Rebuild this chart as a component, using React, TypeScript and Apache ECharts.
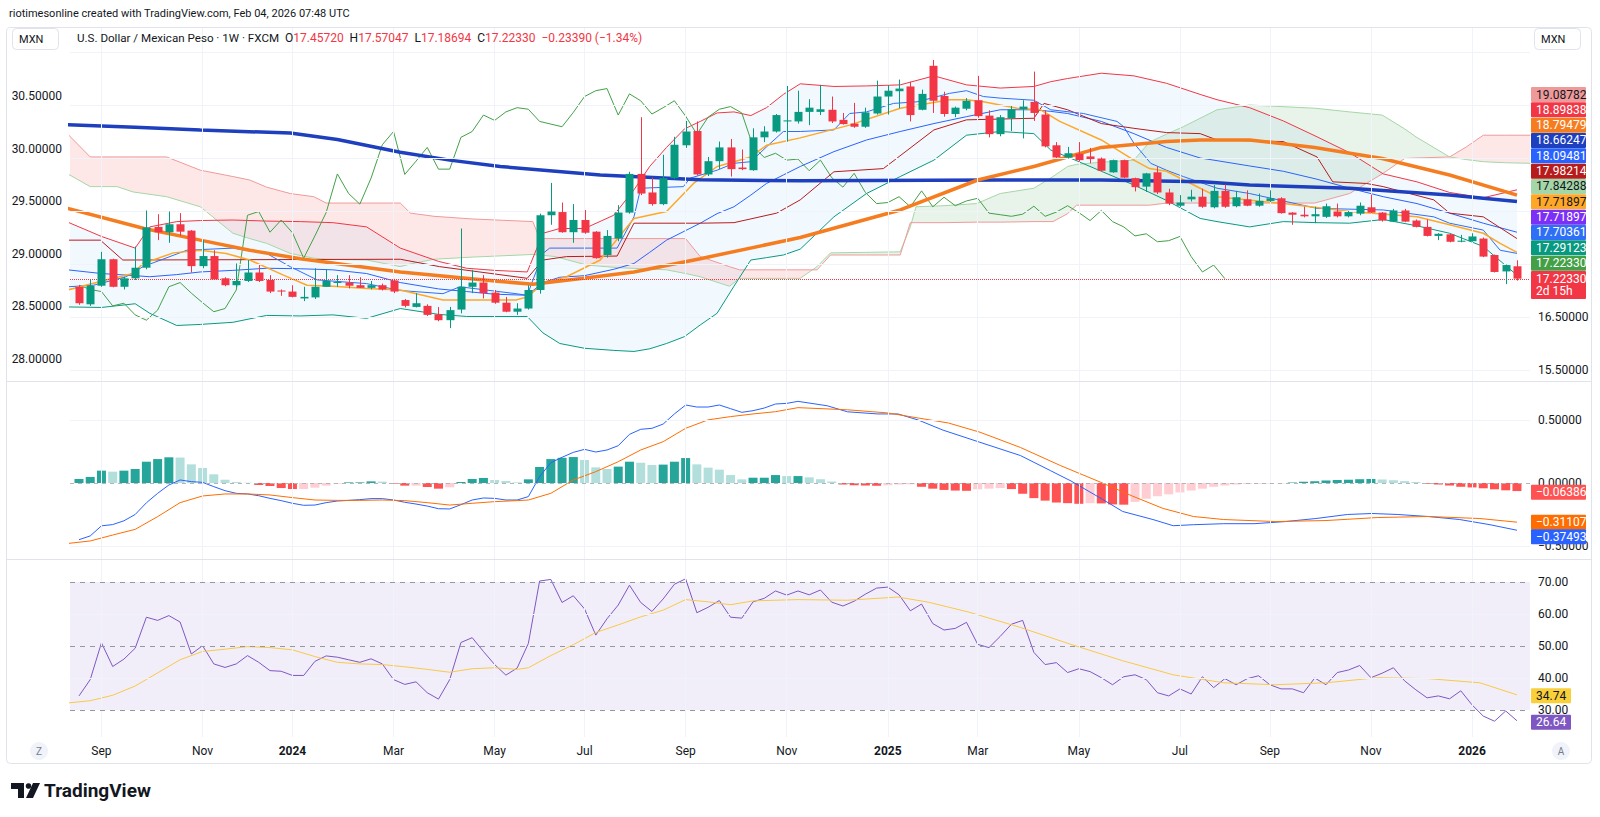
import React, { useEffect, useRef } from "react";
import * as echarts from "echarts";

const UP = "#089981";
const DOWN = "#f23645";
const TXT = "#131722";
const FONT = "Roboto, 'Liberation Sans', sans-serif";
const XMIN = -0.8;
const XMAX = 129.16;

// weekly candles (Aug 21 2023 .. Feb 2 2026): [open, high, low, close]
const CANDLES: number[][] = [
  [17.07, 17.1, 16.73, 16.76], [16.74, 17.2, 16.71, 17.09], [17.09, 17.73, 17.07, 17.59], [17.59, 17.6, 17.06, 17.07],
  [17.07, 17.26, 17.02, 17.23], [17.23, 17.83, 17.2, 17.43], [17.43, 18.51, 17.4, 18.19], [18.2, 18.44, 17.95, 18.1],
  [18.1, 18.49, 17.9, 18.25], [18.25, 18.46, 18.03, 18.11], [18.13, 18.14, 17.34, 17.46], [17.46, 17.95, 17.42, 17.65],
  [17.65, 17.76, 17.2, 17.21], [17.23, 17.25, 17.08, 17.1], [17.1, 17.51, 17.06, 17.18], [17.18, 17.575, 17.16, 17.34],
  [17.34, 17.48, 17.16, 17.18], [17.2, 17.29, 16.95, 16.98], [17.0, 17.02, 16.9, 16.98], [16.98, 17.1, 16.87, 16.88],
  [16.85, 17.07, 16.8, 16.88], [16.87, 17.42, 16.84, 17.07], [17.07, 17.4, 17.07, 17.18], [17.15, 17.29, 17.07, 17.16],
  [17.15, 17.29, 17.04, 17.09], [17.1, 17.25, 17.05, 17.05], [17.05, 17.18, 17.02, 17.1], [17.1, 17.13, 17.0, 17.02],
  [17.19, 17.22, 16.95, 16.98], [16.82, 16.84, 16.68, 16.71], [16.69, 16.95, 16.68, 16.76], [16.71, 16.74, 16.52, 16.54],
  [16.55, 16.69, 16.42, 16.44], [16.44, 16.69, 16.29, 16.63], [16.64, 18.17, 16.57, 17.07], [17.07, 17.39, 16.95, 17.15],
  [17.15, 17.29, 16.85, 16.95], [16.96, 17.01, 16.75, 16.77], [16.77, 16.88, 16.59, 16.6], [16.6, 16.76, 16.54, 16.66],
  [16.66, 17.1, 16.64, 17.01], [17.01, 18.45, 16.94, 18.42], [18.42, 19.03, 18.24, 18.49], [18.48, 18.66, 18.09, 18.1],
  [18.1, 18.63, 17.9, 18.33], [18.33, 18.52, 18.07, 18.09], [18.11, 18.12, 17.6, 17.61], [17.67, 18.14, 17.62, 18.03],
  [17.98, 18.61, 17.93, 18.47], [18.47, 19.24, 18.45, 19.2], [19.2, 20.27, 18.8, 18.83], [18.85, 19.13, 18.6, 18.63],
  [18.63, 19.56, 18.61, 19.12], [19.12, 19.9, 19.1, 19.75], [19.74, 20.2, 19.69, 20.0], [20.01, 20.19, 19.17, 19.19],
  [19.19, 19.52, 19.16, 19.44], [19.44, 19.81, 19.29, 19.7], [19.7, 19.86, 19.15, 19.29], [19.32, 19.66, 19.27, 19.29],
  [19.27, 20.06, 19.26, 19.89], [19.89, 20.1, 19.8, 20.0], [20.0, 20.33, 19.98, 20.31], [20.19, 20.86, 19.81, 20.21],
  [20.19, 20.77, 20.15, 20.37], [20.37, 20.61, 20.12, 20.45], [20.37, 20.88, 20.31, 20.42], [20.41, 20.66, 20.16, 20.19],
  [20.22, 20.35, 20.13, 20.14], [20.15, 20.54, 20.07, 20.09], [20.09, 20.45, 20.07, 20.36], [20.34, 20.96, 20.32, 20.66],
  [20.66, 20.88, 20.32, 20.77], [20.76, 20.98, 20.44, 20.81], [20.85, 20.94, 20.19, 20.31], [20.41, 20.79, 20.4, 20.71],
  [21.24, 21.35, 20.35, 20.58], [20.67, 20.75, 20.28, 20.33], [20.33, 20.47, 20.27, 20.45], [20.43, 20.63, 20.4, 20.58],
  [20.59, 21.05, 20.26, 20.29], [20.3, 20.4, 19.89, 19.95], [19.95, 20.31, 19.91, 20.27], [20.25, 20.48, 20.01, 20.42],
  [20.42, 20.59, 19.87, 20.47], [20.56, 21.13, 20.2, 20.35], [20.32, 20.4, 19.7, 19.72], [19.74, 19.8, 19.5, 19.51],
  [19.51, 19.71, 19.49, 19.59], [19.58, 19.8, 19.43, 19.46], [19.53, 19.69, 19.4, 19.48], [19.49, 19.51, 19.25, 19.26],
  [19.23, 19.47, 19.22, 19.46], [19.46, 19.47, 19.12, 19.13], [19.12, 19.13, 18.87, 18.95], [18.96, 19.22, 18.86, 19.21],
  [19.23, 19.34, 18.82, 18.85], [18.85, 18.92, 18.61, 18.64], [18.6, 18.8, 18.57, 18.66], [18.72, 18.9, 18.68, 18.77],
  [18.77, 18.92, 18.56, 18.58], [18.57, 18.99, 18.55, 18.88], [18.88, 19.0, 18.56, 18.58], [18.59, 18.88, 18.57, 18.76],
  [18.72, 18.89, 18.59, 18.6], [18.6, 18.83, 18.58, 18.69], [18.69, 18.89, 18.67, 18.74], [18.74, 18.76, 18.45, 18.46],
  [18.47, 18.48, 18.24, 18.43], [18.43, 18.58, 18.38, 18.4], [18.4, 18.58, 18.27, 18.44], [18.39, 18.64, 18.37, 18.59],
  [18.49, 18.64, 18.38, 18.4], [18.4, 18.5, 18.38, 18.48], [18.45, 18.66, 18.42, 18.6], [18.57, 18.81, 18.46, 18.47],
  [18.47, 18.48, 18.3, 18.32], [18.3, 18.54, 18.29, 18.51], [18.51, 18.54, 18.29, 18.3], [18.32, 18.34, 18.19, 18.2],
  [18.2, 18.34, 18.02, 18.03], [18.03, 18.08, 17.95, 18.07], [18.06, 18.07, 17.91, 17.92], [17.92, 18.05, 17.91, 17.94],
  [17.93, 18.08, 17.92, 18.02], [17.98, 18.0, 17.63, 17.64], [17.67, 17.68, 17.34, 17.35], [17.36, 17.49, 17.12, 17.48],
  [17.4572, 17.57047, 17.18694, 17.2233],
];

const TICK_IDX = [2, 11, 19, 28, 37, 45, 54, 63, 72, 80, 89, 98, 106, 115, 124];
const TICK_TEXT = ["Sep", "Nov", "2024", "Mar", "May", "Jul", "Sep", "Nov", "2025", "Mar", "May", "Jul", "Sep", "Nov", "2026"];

// moving averages, [bar, price]
const SMA_SLOW = [[-1, 20.13], [5, 20.08], [10.8, 20.03], [18.8, 19.97], [23, 19.85], [28.6, 19.61], [33, 19.46], [37.5, 19.34], [46.4, 19.18], [55.3, 19.09], [64.2, 19.07], [82, 19.085], [91, 19.085], [100, 19.05], [104.2, 18.99], [113.1, 18.93], [122, 18.8], [128, 18.68]];
const SMA_MID = [[-1, 18.55], [5.8, 18.17], [10.8, 17.95], [15.2, 17.76], [19.7, 17.6], [28.6, 17.35], [37.5, 17.17], [40.4, 17.12], [44.9, 17.23], [49.4, 17.35], [55.3, 17.6], [64.2, 18.0], [73.1, 18.52], [80, 19.085], [85, 19.34], [91, 19.7], [96.8, 19.81], [99.8, 19.84], [104.2, 19.84], [110, 19.7], [116, 19.49], [122, 19.18], [128, 18.8]];
const MA_FAST = [[-1, 17.01], [1.9, 17.17], [4.8, 17.32], [5.7, 17.51], [8.4, 17.71], [10.8, 17.76], [13.1, 17.7], [15.2, 17.575], [18.2, 17.29], [20.3, 17.1], [22.6, 17.08], [25.6, 17.04], [28.6, 17.01], [32.4, 16.82], [38.9, 16.82], [39.9, 16.88], [41.3, 17.13], [43.4, 17.26], [46.4, 17.575], [49.4, 18.36], [52.3, 18.49], [54.7, 19.02], [56.8, 19.34], [59.8, 19.52], [61.2, 19.74], [64.2, 19.88], [68.6, 20.12], [73.1, 20.44], [77.5, 20.6], [79, 20.6], [80.5, 20.56], [83.5, 20.44], [85.6, 20.41], [87.3, 20.19], [91, 19.84], [93.9, 19.46], [95.3, 19.3], [96.8, 19.25], [99.8, 18.93], [101.3, 18.77], [107.2, 18.64], [113.1, 18.49], [119.1, 18.39], [122, 18.24], [125, 18.08], [126.5, 17.89], [128, 17.72]];
// Ichimoku
const TENKAN = [[-1, 17.07], [1.3, 17.1], [4.2, 17.26], [5.7, 17.45], [9.6, 17.76], [13.7, 17.8], [16.7, 17.7], [18.8, 17.45], [21.2, 17.2], [25.6, 17.13], [28.6, 17.0], [32.4, 16.94], [33.9, 17.07], [38.9, 16.94], [39.9, 16.91], [41.3, 17.7], [41.9, 17.8], [47.9, 17.8], [49.4, 18.39], [50, 18.93], [53.8, 18.96], [54.4, 19.12], [56.8, 19.27], [58.3, 19.4], [59.8, 19.43], [61.2, 19.71], [62.7, 20.0], [64.2, 20.0], [67.2, 20.03], [68.6, 20.34], [70.1, 20.37], [72.5, 20.53], [74.6, 20.56], [77.5, 20.72], [79, 20.77], [80.5, 20.66], [82, 20.63], [85, 20.59], [86.5, 20.41], [89.4, 20.34], [92.4, 20.19], [93, 20.09], [93.9, 19.78], [95.4, 19.4], [96.8, 19.27], [98.3, 19.15], [101.3, 18.93], [104.2, 18.83], [110.2, 18.55], [116.1, 18.52], [120.6, 18.39], [122, 18.27], [125, 18.14], [126.5, 17.76], [128, 17.7]];
const KIJUN = [[-1, 17.95], [1.9, 17.95], [3.9, 17.575], [28.6, 17.59], [32.1, 17.45], [39.9, 17.23], [41.3, 17.575], [43.4, 17.64], [47.9, 17.65], [49.4, 18.27], [55.3, 18.27], [58.3, 18.28], [62.1, 18.46], [64.2, 18.71], [67.2, 19.24], [71.6, 19.3], [76.1, 20.03], [79, 20.22], [85, 20.25], [85.9, 20.53], [88, 20.41], [91, 20.15], [93.9, 20.06], [96.8, 19.98], [99.8, 19.96], [101.3, 19.84], [107.2, 19.81], [110.2, 19.52], [111.6, 19.05], [114.6, 19.02], [116.1, 18.96], [120.6, 18.71], [122, 18.46], [125, 18.39], [128, 17.98]];
const CLOUD_X = [-1, 1, 3.4, 4.8, 7.8, 10.8, 13.7, 15.2, 16.7, 18.8, 20.9, 22, 25.6, 28.6, 29.5, 31.6, 35, 40.4, 41, 42.4, 45.2, 48, 52.3, 54, 55.3, 57.9, 58.8, 61, 64.2, 65.7, 66.9, 70, 73.1, 74, 74.5, 77, 79.9, 82, 85, 86.7, 88, 88.8, 91, 93.9, 95.3, 96.8, 98.3, 101.3, 104.2, 107, 110, 113.1, 116, 118, 119, 122, 123.5, 125, 127, 129.2];
const LEAD_A = [19.2, 18.96, 18.96, 18.86, 18.77, 18.58, 18.08, 17.98, 17.89, 17.7, 17.61, 17.59, 17.575, 17.45, 17.5, 17.59, 17.63, 17.68, 17.67, 17.64, 17.48, 17.43, 17.39, 17.32, 17.26, 17.08, 17.23, 17.23, 17.23, 17.45, 17.71, 17.72, 17.73, 18.2, 18.58, 18.6, 18.64, 18.83, 18.93, 19.15, 19.34, 19.38, 19.42, 19.46, 19.8, 19.95, 20.09, 20.41, 20.5, 20.47, 20.44, 20.37, 20.31, 20.05, 19.9, 19.52, 19.47, 19.43, 19.41, 19.4];
const LEAD_B = [19.95, 19.52, 19.52, 19.52, 19.52, 19.27, 19.15, 19.085, 18.95, 18.83, 18.77, 18.65, 18.65, 18.65, 18.46, 18.4, 18.35, 18.3, 17.98, 17.98, 17.98, 17.98, 17.98, 17.98, 17.64, 17.45, 17.39, 17.39, 17.39, 17.39, 17.67, 17.67, 17.67, 18.28, 18.28, 18.28, 18.29, 18.29, 18.3, 18.3, 18.45, 18.61, 18.61, 18.61, 18.61, 18.65, 18.65, 18.65, 18.65, 18.65, 18.65, 18.83, 19.2, 19.49, 19.5, 19.52, 19.71, 19.93, 19.93, 19.93];
// Bollinger bands
const BB_X = [-1, 2, 5, 6.3, 8.7, 10.8, 13.7, 16.7, 19.7, 22.6, 25.6, 28.6, 32, 34.5, 37, 39.9, 41.3, 42.8, 45, 47.6, 49.4, 50.8, 52.3, 53.9, 55.3, 56.8, 58.3, 59.8, 61.2, 62.7, 64.2, 67.2, 70.1, 73.1, 76.1, 79, 82, 85, 86.5, 88, 91, 93.9, 96.8, 99.8, 101.3, 104.2, 107.2, 110.2, 113.1, 116.1, 119.1, 122, 125, 128];
const BB_UP = [18.29, 18.02, 17.8, 18.2, 18.3, 18.32, 18.33, 18.31, 18.3, 18.28, 18.2, 17.8, 17.55, 17.42, 17.38, 17.35, 18.08, 18.17, 18.17, 18.42, 18.9, 19.34, 19.7, 20.05, 20.19, 20.35, 20.37, 20.3, 20.45, 20.7, 20.9, 20.85, 20.86, 20.88, 21.05, 20.88, 20.82, 20.85, 20.94, 21.0, 21.1, 21.05, 20.91, 20.7, 20.6, 20.45, 20.2, 19.9, 19.6, 19.2, 19.05, 18.85, 18.75, 18.9];
const BB_MID = [17.39, 17.32, 17.28, 17.26, 17.3, 17.35, 17.38, 17.42, 17.41, 17.39, 17.32, 17.15, 17.03, 16.98, 16.93, 16.91, 17.15, 17.25, 17.28, 17.4, 17.51, 17.72, 17.95, 18.12, 18.27, 18.45, 18.58, 18.8, 19.02, 19.18, 19.34, 19.62, 19.84, 20.0, 20.15, 20.28, 20.41, 20.41, 20.38, 20.34, 20.19, 19.96, 19.7, 19.5, 19.45, 19.35, 19.25, 19.1, 18.93, 18.77, 18.64, 18.46, 18.27, 18.1];
const BB_LO = [16.69, 16.68, 16.75, 16.57, 16.34, 16.36, 16.4, 16.53, 16.52, 16.54, 16.475, 16.66, 16.55, 16.51, 16.51, 16.51, 16.2, 16.0, 15.91, 15.87, 15.85, 15.9, 16.0, 16.13, 16.35, 16.57, 17.08, 17.575, 17.62, 17.67, 17.78, 18.39, 18.83, 19.15, 19.46, 19.93, 20.0, 19.96, 19.65, 19.52, 19.25, 18.99, 18.7, 18.36, 18.3, 18.2, 18.3, 18.28, 18.27, 18.34, 18.22, 18.08, 17.83, 17.29];

// MACD
const MACD_HIST = [0.032, 0.048, 0.098, 0.09, 0.098, 0.111, 0.169, 0.19, 0.204, 0.202, 0.148, 0.119, 0.069, 0.026, 0.008, 0.002, -0.016, -0.024, -0.04, -0.048, -0.048, -0.037, -0.021, -0.005, 0.005, 0.005, 0.013, 0.011, -0.005, -0.021, -0.021, -0.032, -0.045, -0.034, 0.008, 0.032, 0.04, 0.024, 0.016, 0.005, 0.029, 0.127, 0.19, 0.2, 0.206, 0.183, 0.124, 0.111, 0.13, 0.169, 0.161, 0.143, 0.146, 0.169, 0.198, 0.148, 0.122, 0.106, 0.063, 0.029, 0.042, 0.042, 0.063, 0.055, 0.055,
  0.045, 0.03, 0.012, -0.012, -0.018, -0.02, -0.022, -0.018, -0.012, -0.01, -0.03, -0.045, -0.055, -0.06, -0.062, -0.05, -0.045, -0.04, -0.048, -0.085, -0.12, -0.14, -0.155, -0.16, -0.165, -0.16, -0.162, -0.17, -0.172, -0.15, -0.125, -0.105, -0.09, -0.075, -0.06, -0.045, -0.03, -0.02, -0.012, -0.008, -0.005, -0.004, -0.003, 0.004, 0.01, 0.014, 0.02, 0.024, 0.026, 0.03, 0.032, 0.028, 0.022, 0.015, 0.008, -0.006, -0.012, -0.02, -0.03, -0.035, -0.042, -0.05, -0.058, -0.064];
const MACD_LINE = [[0, -0.45], [1, -0.42], [2, -0.34], [3, -0.33], [4, -0.3], [5, -0.25], [6, -0.157], [7, -0.082], [8, -0.016], [9, 0.024], [10, 0.011], [11, 0.005], [12, -0.029], [13, -0.061], [14, -0.082], [15, -0.087], [16, -0.101], [17, -0.122], [18, -0.14], [19, -0.161], [20, -0.177], [21, -0.175], [22, -0.156], [23, -0.143], [24, -0.138], [25, -0.132], [26, -0.124], [27, -0.124], [28, -0.135], [29, -0.153], [30, -0.167], [31, -0.183], [32, -0.204], [33, -0.206], [34, -0.172], [35, -0.135], [36, -0.119], [37, -0.122], [38, -0.135], [39, -0.135], [40, -0.108], [41, 0.05], [42, 0.161], [43, 0.204], [44, 0.243], [45, 0.267], [46, 0.246], [47, 0.262], [48, 0.296], [49, 0.386], [50, 0.426], [51, 0.434], [52, 0.468], [53, 0.548], [54, 0.619], [55, 0.603], [56, 0.603], [57, 0.619], [58, 0.59], [59, 0.561], [60, 0.574], [61, 0.595], [62, 0.627], [63, 0.632], [64, 0.648], [66.6, 0.613], [68.4, 0.565], [71.1, 0.548], [72.9, 0.548], [74.7, 0.5], [76.9, 0.42], [80.2, 0.323], [83.8, 0.218], [86.5, 0.097], [88.3, 0.016], [91.1, -0.129], [92.9, -0.226], [95.6, -0.29], [97.4, -0.339], [99.2, -0.331], [101.9, -0.323], [104.6, -0.323], [107.4, -0.306], [110.1, -0.282], [112.9, -0.25], [115.1, -0.242], [117.4, -0.25], [120.1, -0.266], [122.9, -0.29], [125.6, -0.331], [128, -0.375]];
const MACD_SIGNAL = [[-1, -0.48], [1, -0.46], [3, -0.413], [5, -0.368], [7, -0.267], [9, -0.156], [11, -0.103], [13, -0.087], [15, -0.087], [17, -0.095], [19, -0.116], [21, -0.135], [23, -0.138], [25, -0.138], [27, -0.135], [29, -0.14], [31, -0.156], [33, -0.175], [35, -0.161], [37, -0.148], [39, -0.14], [40, -0.135], [42, -0.082], [44, 0.024], [46, 0.09], [48, 0.169], [50, 0.262], [52, 0.328], [54, 0.434], [56, 0.501], [58, 0.527], [60, 0.548], [62, 0.566], [64, 0.598], [68.4, 0.581], [72, 0.556], [74.7, 0.516], [77.4, 0.476], [80.2, 0.403], [83.8, 0.282], [87.4, 0.137], [91.1, 0.0], [93.8, -0.105], [96.5, -0.202], [99.2, -0.266], [101.9, -0.29], [106.5, -0.306], [111, -0.298], [115.6, -0.274], [120.1, -0.266], [124.7, -0.282], [128, -0.311]];

// RSI
const RSI = [34.4, 39.5, 51.0, 43.6, 45.9, 49.3, 59.0, 58.0, 59.5, 57.5, 47.5, 50.1, 44.4, 43.3, 44.4, 47.0, 44.9, 42.3, 42.1, 40.8, 40.8, 45.2, 46.9, 46.5, 45.7, 44.9, 46.0, 44.4, 39.5, 38.0, 38.8, 35.4, 33.4, 39.5, 51.1, 52.6, 48.3, 44.2, 40.9, 43.1, 50.8, 70.3, 70.8, 63.6, 65.7, 61.6, 53.4, 58.5, 62.8, 69.0, 63.6, 60.8, 64.7, 69.3, 71.0, 60.4, 62.1, 64.2, 59.0, 58.7, 63.8, 64.9, 67.2, 65.9, 67.2,
  66, 67.5, 63.7, 62.5, 64, 66.2, 68.1, 68.4, 66, 61, 63.1, 57, 55, 55.5, 57.4, 50.5, 49.5, 53, 56.8, 58.0, 48, 44.2, 44.8, 41.7, 42.9, 42, 40.1, 37.9, 40.4, 41.0, 39.5, 35.4, 34.4, 36.6, 35.0, 40.4, 37, 39.8, 37.9, 39.8, 40.7, 37.9, 36.6, 36.6, 35.4, 40, 37.9, 41.7, 42.5, 43.9, 40.1, 41.5, 43.2, 39.1, 36.3, 33.8, 34.4, 33.5, 36.0, 31.6, 28.1, 26.5, 29.7, 26.64];
const RSI_MA = [[-1, 32.2], [1, 32.9], [3, 34.6], [5, 37.5], [7, 41.6], [9, 45.7], [11, 48.3], [13, 49.0], [15, 49.8], [17, 49.5], [19, 48.8], [21, 46.7], [23, 44.9], [25, 44.4], [27, 44.2], [29, 43.5], [31, 42.7], [33, 41.8], [35, 42.9], [37, 43.2], [39, 42.7], [40, 43.2], [42, 47.0], [44, 50.4], [46, 54.2], [48, 56.6], [50, 59.1], [52, 61.2], [54, 64.5], [56, 63.8], [58, 62.9], [60, 64.1], [62, 64.3], [64, 64.5], [68.4, 64.3], [72.9, 65.3], [75.6, 63.7], [79.2, 60.6], [83.8, 55.8], [88.3, 50.5], [92.9, 45.4], [97.4, 41.0], [101.9, 38.5], [106.5, 37.9], [111, 38.5], [115.6, 40.1], [120.1, 39.8], [124.7, 38.5], [128, 34.74]];

const LAST_CLOSE = 17.2233;
const PRICE_TAGS = [
  ["19.08782", "#ef9a9a", TXT], ["18.89838", "#f23645", "#fff"], ["18.79479", "#f57c1f", "#fff"], ["18.66247", "#1e3fbe", "#fff"],
  ["18.09481", "#2962ff", "#fff"], ["17.98214", "#b71c1c", "#fff"], ["17.84288", "#a5d6a7", TXT], ["17.71897", "#ffa726", TXT],
  ["17.71897", "#7b2ff7", "#fff"], ["17.70361", "#2f6ff5", "#fff"], ["17.29123", "#089981", "#fff"], ["17.22330", "#43a047", "#fff"],
];
const MACD_TAGS = [["−0.06386", "#ff5252", 492.3], ["−0.31107", "#ff6d00", 522.3], ["−0.37493", "#2962ff", 536.7]];
const RSI_TAGS = [["34.74", "#f9cf3a", TXT, 695.7], ["26.64", "#7e57c2", "#fff", 722.3]];

function lineS(data: number[][], color: string, width: number, xi: number, yi: number, z = 3, extra: any = {}) {
  return { type: "line", xAxisIndex: xi, yAxisIndex: yi, data, showSymbol: false, symbol: "none", silent: true, z, clip: true, lineStyle: { color, width }, ...extra };
}

function bandS(xs: number[], a: number[], b: number[], cA: string, cB: string, z: number) {
  return {
    type: "custom", xAxisIndex: 0, yAxisIndex: 0, silent: true, z, clip: true,
    data: [[xs[0], a[0]]],
    renderItem: (_p: any, api: any) => {
      const children: any[] = [];
      let top: number[][] = [];
      let bot: number[][] = [];
      let sgn = 0;
      const push = () => {
        if (top.length > 1) children.push({ type: "polygon", shape: { points: top.concat(bot.slice().reverse()) }, style: { fill: sgn >= 0 ? cA : cB } });
      };
      for (let k = 0; k < xs.length; k++) {
        const d = a[k] - b[k];
        const s = d > 0 ? 1 : d < 0 ? -1 : sgn;
        const pa = api.coord([xs[k], a[k]]);
        const pb = api.coord([xs[k], b[k]]);
        if (k > 0 && s !== sgn && sgn !== 0) {
          const dp = a[k - 1] - b[k - 1];
          const t = dp / (dp - d);
          const pc = api.coord([xs[k - 1] + t * (xs[k] - xs[k - 1]), a[k - 1] + t * (a[k] - a[k - 1])]);
          top.push(pc); bot.push(pc); push();
          top = [pc]; bot = [pc];
        }
        top.push(pa); bot.push(pb); sgn = s;
      }
      push();
      return { type: "group", children };
    },
  };
}

function gridLines(xi: number, yi: number, yVals: number[]) {
  return {
    type: "line", xAxisIndex: xi, yAxisIndex: yi, data: [[-50, -50]], silent: true, z: 0, showSymbol: false, symbol: "none",
    markLine: {
      silent: true, symbol: ["none", "none"], label: { show: false }, animation: false,
      lineStyle: { color: "#f0f3fa", width: 1, type: "solid" },
      data: [...TICK_IDX.map((v) => ({ xAxis: v })), ...yVals.map((v) => ({ yAxis: v }))],
    },
  };
}

function tag(x: number, yc: number, w: number, text: string, bg: string, fg: string) {
  return [
    { type: "rect", shape: { x, y: yc - 7.5, width: w, height: 15, r: 1 }, style: { fill: bg }, z: 200 },
    { type: "text", x: x + 5, y: yc, style: { text, fill: fg, fontSize: 12, fontFamily: FONT, verticalAlign: "middle", align: "left" }, z: 201 },
  ];
}

export default function App() {
  const ref = useRef<HTMLDivElement>(null);
  useEffect(() => {
    if (!ref.current) return;
    const chart = echarts.init(ref.current, undefined, { renderer: "svg" });
    const lag = CANDLES.slice(26).map((c, k) => [k, c[3]]);
    const candleData = CANDLES.map((c, i) => [i, c[0], c[1], c[2], c[3]]);
    const axisLbl = { color: TXT, fontSize: 12, fontFamily: FONT, margin: 8 };
    const hidden = { axisLine: { show: false }, axisTick: { show: false }, splitLine: { show: false } };

    const graphics: any[] = [];
    graphics.push({ type: "text", x: 9, y: 13, style: { text: "riotimesonline created with TradingView.com, Feb 04, 2026 07:48 UTC", fill: TXT, fontSize: 11, fontFamily: FONT, verticalAlign: "middle" } });
    graphics.push({ type: "rect", shape: { x: 6.5, y: 27.5, width: 1585, height: 736, r: 4 }, style: { fill: "none", stroke: "#e0e3eb", lineWidth: 1 }, z: 150 });
    graphics.push({ type: "line", shape: { x1: 6.5, y1: 381.5, x2: 1591.5, y2: 381.5 }, style: { stroke: "#e0e3eb", lineWidth: 1 }, z: 150 });
    graphics.push({ type: "line", shape: { x1: 6.5, y1: 559.5, x2: 1591.5, y2: 559.5 }, style: { stroke: "#e0e3eb", lineWidth: 1 }, z: 150 });
    graphics.push({ type: "rect", shape: { x: 12.5, y: 28.5, width: 46, height: 21, r: 4 }, style: { fill: "#fff", stroke: "#e0e3eb", lineWidth: 1 }, z: 150 });
    graphics.push({ type: "text", x: 19, y: 39.5, style: { text: "MXN", fill: TXT, fontSize: 11, fontFamily: FONT, verticalAlign: "middle" }, z: 151 });
    graphics.push({ type: "rect", shape: { x: 1534.5, y: 28.5, width: 46, height: 21, r: 4 }, style: { fill: "#fff", stroke: "#e0e3eb", lineWidth: 1 }, z: 150 });
    graphics.push({ type: "text", x: 1541, y: 39.5, style: { text: "MXN", fill: TXT, fontSize: 11, fontFamily: FONT, verticalAlign: "middle" }, z: 151 });
    graphics.push({
      type: "text", x: 77, y: 38, z: 151,
      style: {
        text: "{n|U.S. Dollar / Mexican Peso · 1W · FXCM}  {k|O}{v|17.45720}  {k|H}{v|17.57047}  {k|L}{v|17.18694}  {k|C}{v|17.22330}  {v|−0.23390 (−1.34%)}",
        verticalAlign: "middle", fontFamily: FONT, fontSize: 12,
        rich: { n: { fill: TXT, fontSize: 11.6, fontFamily: FONT }, k: { fill: TXT, fontSize: 12, fontFamily: FONT }, v: { fill: "#f23645", fontSize: 12, fontFamily: FONT } },
      },
    });
    PRICE_TAGS.forEach((t, k) => graphics.push(...tag(1531, 94.5 + k * 15.33, 55, t[0], t[1], t[2])));
    graphics.push({ type: "rect", shape: { x: 1531, y: 271, width: 55, height: 28, r: 1 }, style: { fill: "#f23645" }, z: 200 });
    graphics.push({ type: "text", x: 1536, y: 278.5, style: { text: "17.22330", fill: "#fff", fontSize: 12, fontFamily: FONT, verticalAlign: "middle" }, z: 201 });
    graphics.push({ type: "text", x: 1536, y: 291, style: { text: "2d 15h", fill: "#fff", fontSize: 12, fontFamily: FONT, verticalAlign: "middle" }, z: 201 });
    MACD_TAGS.forEach((t) => graphics.push(...tag(1531, t[2] as number, 55, t[0] as string, t[1] as string, "#fff")));
    RSI_TAGS.forEach((t) => graphics.push(...tag(1531, t[3] as number, 40, t[0] as string, t[1] as string, t[2] as string)));
    // Z / A buttons
    graphics.push({ type: "circle", shape: { cx: 39, cy: 751, r: 9 }, style: { fill: "#f0f3fa" }, z: 150 });
    graphics.push({ type: "text", x: 39, y: 751, style: { text: "Z", fill: "#787b86", fontSize: 10, fontFamily: FONT, align: "center", verticalAlign: "middle" }, z: 151 });
    graphics.push({ type: "circle", shape: { cx: 1561, cy: 751, r: 9 }, style: { fill: "#f0f3fa" }, z: 150 });
    graphics.push({ type: "text", x: 1561, y: 751, style: { text: "A", fill: "#787b86", fontSize: 10, fontFamily: FONT, align: "center", verticalAlign: "middle" }, z: 151 });
    // TradingView logo
    graphics.push({ type: "polygon", shape: { points: [[11, 783], [24, 783], [24, 798], [18, 798], [18, 789], [11, 789]] }, style: { fill: TXT }, z: 150 });
    graphics.push({ type: "circle", shape: { cx: 28.5, cy: 786, r: 2.8 }, style: { fill: TXT }, z: 150 });
    graphics.push({ type: "polygon", shape: { points: [[33, 783], [40, 783], [33, 798], [26, 798]] }, style: { fill: TXT }, z: 150 });
    graphics.push({ type: "text", x: 44, y: 790.5, style: { text: "TradingView", fill: TXT, fontSize: 19, fontWeight: "bold", fontFamily: FONT, verticalAlign: "middle" }, z: 150 });

    const option: any = {
      animation: false,
      backgroundColor: "#ffffff",
      grid: [
        { left: 70, top: 28, width: 1460, height: 353 },
        { left: 70, top: 382, width: 1460, height: 177 },
        { left: 70, top: 560, width: 1460, height: 177 },
      ],
      xAxis: [0, 1, 2].map((g) => ({
        type: "value", gridIndex: g, min: XMIN, max: XMAX, ...hidden,
        axisLabel: {
          show: g === 2, ...axisLbl, customValues: TICK_IDX,
          formatter: (v: number) => {
            const k = TICK_IDX.indexOf(Math.round(v));
            const t = k >= 0 ? TICK_TEXT[k] : "";
            return /^\d{4}$/.test(t) ? "{y|" + t + "}" : t;
          },
          rich: { y: { fontWeight: "bold", fontSize: 12, fontFamily: FONT, color: TXT } },
        },
      })),
      yAxis: [
        { type: "value", gridIndex: 0, position: "right", min: 15.2925, max: 21.953, ...hidden, axisLabel: { ...axisLbl, customValues: [15.5, 16.5], formatter: (v: number) => v.toFixed(5) } },
        { type: "value", gridIndex: 0, position: "left", min: 27.7909, max: 31.1464, ...hidden, axisLabel: { ...axisLbl, customValues: [28, 28.5, 29, 29.5, 30, 30.5], formatter: (v: number) => v.toFixed(5) } },
        { type: "value", gridIndex: 1, position: "right", min: -0.6032, max: 0.8016, ...hidden, axisLabel: { ...axisLbl, customValues: [-0.5, 0, 0.5], formatter: (v: number) => (v < 0 ? "−" : "") + Math.abs(v).toFixed(5) } },
        { type: "value", gridIndex: 2, position: "right", min: 21.5625, max: 76.875, ...hidden, axisLabel: { ...axisLbl, customValues: [30, 40, 50, 60, 70], formatter: (v: number) => v.toFixed(2) } },
      ],
      graphic: { elements: graphics },
      series: [
        gridLines(0, 0, [15.5, 16.5, 17.5, 18.5, 19.5, 20.5, 21.5]),
        gridLines(1, 2, [0.5, -0.5]),
        gridLines(2, 3, [40, 60]),
        // price pane
        bandS(CLOUD_X, LEAD_A, LEAD_B, "rgba(67,160,71,0.12)", "rgba(244,67,54,0.12)", 1),
        bandS(BB_X, BB_UP, BB_LO, "rgba(33,150,243,0.06)", "rgba(33,150,243,0.06)", 1),
        lineS(CLOUD_X.map((x, k) => [x, LEAD_A[k]]), "#a5d6a7", 1, 0, 0, 2),
        lineS(CLOUD_X.map((x, k) => [x, LEAD_B[k]]), "#ef9a9a", 1, 0, 0, 2),
        lineS(BB_X.map((x, k) => [x, BB_UP[k]]), "#f23645", 1, 0, 0, 3),
        lineS(BB_X.map((x, k) => [x, BB_LO[k]]), "#089981", 1, 0, 0, 3),
        lineS(BB_X.map((x, k) => [x, BB_MID[k]]), "#2962ff", 1, 0, 0, 3),
        lineS(lag, "#43a047", 1, 0, 0, 3),
        lineS(KIJUN, "#b71c1c", 1, 0, 0, 3),
        lineS(TENKAN, "#2f6ff5", 1, 0, 0, 3),
        lineS(MA_FAST, "#ffa726", 1.5, 0, 0, 3),
        lineS(SMA_SLOW, "#1e3fbe", 3.5, 0, 0, 4),
        lineS(SMA_MID, "#f57c1f", 3.5, 0, 0, 4, {
          markLine: { silent: true, symbol: ["none", "none"], label: { show: false }, lineStyle: { color: "#f23645", type: "dotted", width: 1 }, data: [{ yAxis: LAST_CLOSE }] },
        }),
        {
          type: "custom", xAxisIndex: 0, yAxisIndex: 0, z: 5, silent: true, clip: true,
          data: candleData,
          encode: { x: 0, y: [1, 2, 3, 4] },
          renderItem: (_p: any, api: any) => {
            const i = api.value(0), o = api.value(1), h = api.value(2), l = api.value(3), c = api.value(4);
            const pO = api.coord([i, o]), pC = api.coord([i, c]), pH = api.coord([i, h]), pL = api.coord([i, l]);
            const color = c >= o ? UP : DOWN;
            const cx = Math.round(pO[0]) + 0.5;
            const top = Math.min(pO[1], pC[1]);
            const bot = Math.max(pO[1], pC[1]);
            return {
              type: "group",
              children: [
                { type: "line", shape: { x1: cx, y1: pH[1], x2: cx, y2: pL[1] }, style: { stroke: color, lineWidth: 1 } },
                { type: "rect", shape: { x: cx - 4, y: top, width: 8, height: Math.max(1, bot - top) }, style: { fill: color } },
              ],
            };
          },
        },
        // MACD pane
        {
          type: "bar", xAxisIndex: 1, yAxisIndex: 2, barWidth: 9, silent: true, z: 2,
          data: MACD_HIST.map((v, i) => [i, v]),
          itemStyle: {
            color: (p: any) => {
              const i = p.dataIndex;
              const v = MACD_HIST[i];
              const prev = i > 0 ? MACD_HIST[i - 1] : v;
              if (v >= 0) return v >= prev ? "#26a69a" : "#b2dfdb";
              return v < prev ? "#ff5252" : "#ffcdd2";
            },
          },
          markLine: { silent: true, symbol: ["none", "none"], label: { show: false }, lineStyle: { color: "#b2b5be", type: [4, 4], width: 1 }, data: [{ yAxis: 0 }] },
        },
        lineS(MACD_LINE, "#2962ff", 1, 1, 2, 3),
        lineS(MACD_SIGNAL, "#ff6d00", 1, 1, 2, 3),
        // RSI pane
        lineS(RSI.map((v, i) => [i, v]), "#7e57c2", 1, 2, 3, 3, {
          markArea: { silent: true, itemStyle: { color: "rgba(126,87,194,0.1)" }, data: [[{ yAxis: 30 }, { yAxis: 70 }]] },
          markLine: { silent: true, symbol: ["none", "none"], label: { show: false }, lineStyle: { color: "#9598a1", type: [5, 5], width: 1 }, data: [{ yAxis: 70 }, { yAxis: 50 }, { yAxis: 30 }] },
        }),
        lineS(RSI_MA, "#f7c948", 1, 2, 3, 3),
      ],
    };
    chart.setOption(option);
    return () => chart.dispose();
  }, []);
  return <div ref={ref} style={{ position: "fixed", left: 0, top: 0, width: 1600, height: 817, background: "#fff" }} />;
}
